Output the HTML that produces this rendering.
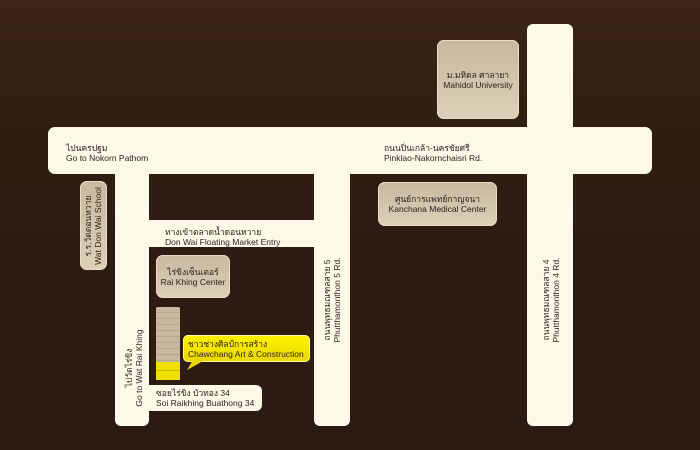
<!DOCTYPE html>
<html><head><meta charset="utf-8"><style>
body{margin:0;width:700px;height:450px;overflow:hidden;background:#2f1d12;font-family:"Liberation Sans","Noto Sans CJK SC",sans-serif;}
.a{position:absolute}
.r{position:absolute;background:#fdf9e8}
.b{position:absolute;background:linear-gradient(#c7b9a0,#dcd0b8);border-radius:7px;color:#2c1e15;font-size:8.5px;text-align:center;line-height:10px;display:flex;align-items:center;justify-content:center;flex-direction:column;box-shadow:0 0 0 1px #e8dcc4 inset}
.t{position:absolute;color:#2c1e15;font-size:8.5px;line-height:10px;white-space:nowrap}
.v{position:absolute;transform:rotate(-90deg);transform-origin:center;white-space:nowrap;color:#2c1e15;font-size:8.5px;line-height:10px}
</style></head><body>
<div class="a" style="left:0;top:0;width:700px;height:450px;background:linear-gradient(#3a2517,#2f1d12 35%,#2c1b11)"></div>
<!-- roads -->
<div class="r" style="left:48px;top:127px;width:604px;height:47px;border-radius:7px"></div>
<div class="r" style="left:527px;top:24px;width:46px;height:402px;border-radius:6px"></div>
<div class="r" style="left:314px;top:170px;width:36px;height:256px;border-radius:0 0 6px 6px"></div>
<div class="r" style="left:115px;top:170px;width:34px;height:256px;border-radius:0 0 6px 6px"></div>
<div class="r" style="left:145px;top:220px;width:172px;height:27px"></div>
<div class="r" style="left:145px;top:385px;width:117px;height:26px;border-radius:0 6px 6px 0"></div>
<!-- boxes -->
<div class="b" style="left:437px;top:40px;width:82px;height:79px"><div>ม.มหิดล ศาลายา</div><div>Mahidol University</div></div>
<div class="b" style="left:378px;top:182px;width:119px;height:44px"><div>ศูนย์การแพทย์กาญจนา</div><div>Kanchana Medical Center</div></div>
<div class="b" style="left:156px;top:255px;width:74px;height:43px"><div>ไร่ขิงเซ็นเตอร์</div><div>Rai Khing Center</div></div>
<div class="b" style="left:80px;top:181px;width:27px;height:89px"></div>
<div class="v" style="left:48px;top:216px;width:90px;height:20px;text-align:center">ร.ร.วัดดอนหวาย<br>Wat Don Wai School</div>
<!-- building -->
<div class="a" style="left:156px;top:307px;width:24px;height:73px;background:repeating-linear-gradient(#c7b9a0 0 5px,#b4a78e 5px 6px);border-radius:2px"></div>
<div class="a" style="left:156px;top:362px;width:24px;height:18px;background:linear-gradient(#f0e000 0 8px,#c8b800 8px 9px,#f0e000 9px)"></div>
<div class="a" style="left:183px;top:335px;width:127px;height:27px;background:linear-gradient(#fff200,#e8d800);border-radius:5px;box-shadow:0 0 0 1px #fff8a0 inset"></div>
<div class="a" style="left:190px;top:360px;width:0;height:0;border-top:10px solid #e8d800;border-right:12px solid transparent;transform:skewX(-30deg)"></div>
<div class="t" style="left:188px;top:339px">ชาวช่างศิลป์การสร้าง<br>Chawchang Art &amp; Construction</div>
<!-- labels -->
<div class="t" style="left:66px;top:143px">ไปนครปฐม<br>Go to Nokorn Pathom</div>
<div class="t" style="left:384px;top:143px">ถนนปิ่นเกล้า-นครชัยศรี<br>Pinklao-Nakornchaisri Rd.</div>
<div class="t" style="left:165px;top:227px">ทางเข้าตลาดน้ำดอนหวาย<br>Don Wai Floating Market Entry</div>
<div class="t" style="left:156px;top:388px">ซอยไร่ขิง บัวทอง 34<br>Soi Raikhing Buathong 34</div>
<div class="v" style="left:282px;top:290px;width:100px;height:20px;text-align:center">ถนนพุทธมณฑลสาย 5<br>Phutthamonthon 5 Rd.</div>
<div class="v" style="left:501px;top:290px;width:100px;height:20px;text-align:center">ถนนพุทธมณฑลสาย 4<br>Phutthamonthon 4 Rd.</div>
<div class="v" style="left:89px;top:358px;width:90px;height:20px;text-align:center">ไปวัดไร่ขิง<br>Go to Wat Rai Khing</div>
</body></html>
